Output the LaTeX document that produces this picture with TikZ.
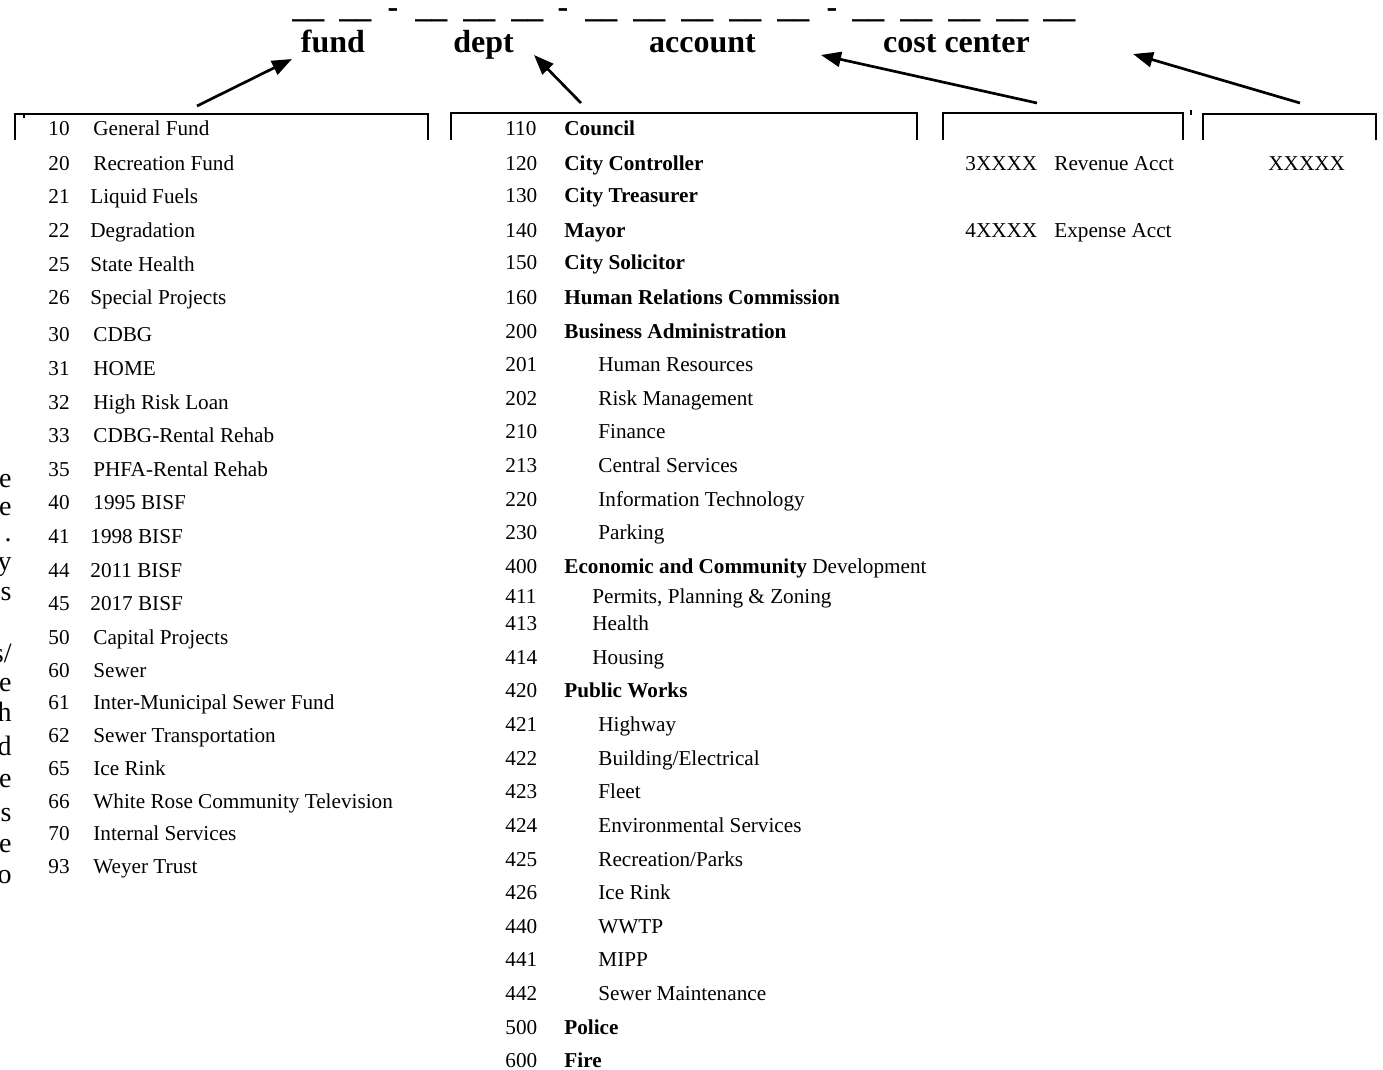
\documentclass[tikz,border=0pt]{standalone}
\usepackage{fontspec}
\setmainfont{Liberation Serif}
\usetikzlibrary{arrows.meta}
\begin{document}
\begin{tikzpicture}[x=0.5pt,y=-0.5pt,
  txt/.style={anchor=base west, inner sep=0pt, font=\fontsize{10.6}{12}\selectfont},
  hdr/.style={anchor=base, inner sep=0pt, font=\fontsize{16}{19}\selectfont\bfseries},
  blank/.style={anchor=base west, inner sep=0pt, font=\fontsize{16}{19}\selectfont\bfseries},
  dashmark/.style={anchor=base, inner sep=0pt, font=\fontsize{16}{19}\selectfont\bfseries},
  brk/.style={line width=1.2pt},
  arr/.style={line width=1.35pt, -{Triangle[length=10pt,width=7.5pt]}},
  edgetxt/.style={anchor=base east, inner sep=0pt, font=\fontsize{14}{16}\selectfont}]
\useasboundingbox (0,0) rectangle (1383,1070);

% blanks and hyphens
\foreach \x [count=\i] in {292,339,415,463,511,585,633,681,729,777,852,900,948,996,1043}
  \node[blank] (u\i) at (\x,18) {\_\_};
\foreach \x [count=\i] in {393,563,832}
  \node[dashmark] (h\i) at (\x,18) {-};

% headers
\node[hdr] (fund) at (333,53) {fund};
\node[hdr] (dept) at (483.5,53) {dept};
\node[hdr] (account) at (702.5,53) {account};
\node[hdr] (cost) at (956.5,53) {cost center};

% brackets
\draw[brk] (15,140) -- (15,114) -- (428,114) -- (428,140);
\draw[brk] (451,140) -- (451,113) -- (917,113) -- (917,140);
\draw[brk] (943,140) -- (943,113) -- (1183,113) -- (1183,140);
\draw[brk] (1203,140) -- (1203,114) -- (1376,114) -- (1376,140);
\draw[line width=0.6pt] (24,114) -- (24,118);
\draw[line width=0.6pt] (1191,110) -- (1191,115);

% arrows
\coordinate (fundtail) at (197,106);
\coordinate (fundtip) at (292,59);
\coordinate (depttail) at (581,103);
\coordinate (depttip) at (534,55);
\coordinate (acctail) at (1037,103);
\coordinate (acctip) at (821,55);
\coordinate (costtail) at (1300,103);
\coordinate (costtip) at (1133,54);
\draw[arr] (fundtail) -- (fundtip);
\draw[arr] (depttail) -- (depttip);
\draw[arr] (acctail) -- (acctip);
\draw[arr] (costtail) -- (costtip);

% fund list
\foreach \n/\yy/\t/\xx [count=\i] in {
10/129/{General Fund}/93, 20/163/{Recreation Fund}/93, 21/197/{Liquid Fuels}/90,
22/231/{Degradation}/90, 25/264/{State Health}/90, 26/298/{Special Projects}/90,
30/334/{CDBG}/93, 31/368/{HOME}/93, 32/402/{High Risk Loan}/93,
33/435/{CDBG-Rental Rehab}/93, 35/469/{PHFA-Rental Rehab}/93, 40/502/{1995 BISF}/93,
41/536/{1998 BISF}/90, 44/570/{2011 BISF}/90, 45/603/{2017 BISF}/90,
50/637/{Capital Projects}/93, 60/670/{Sewer}/93, 61/702/{Inter-Municipal Sewer Fund}/93,
62/735/{Sewer Transportation}/93, 65/768/{Ice Rink}/93, 66/801/{White Rose Community Television}/93,
70/833/{Internal Services}/93, 93/866/{Weyer Trust}/93}
{
  \node[txt] (fn\i) at (48,\yy+7) {\n};
  \node[txt] (ft\i) at (\xx,\yy+7) {\t};
}

% dept list
\foreach \n/\yy/\t/\xx [count=\i] in {
110/129/{\textbf{Council}}/564,
120/163/{\textbf{City Controller}}/564,
130/196/{\textbf{City Treasurer}}/564,
140/230/{\textbf{Mayor}}/564,
150/263/{\textbf{City Solicitor}}/564,
160/297/{\textbf{Human Relations Commission}}/564,
200/331/{\textbf{Business Administration}}/564,
201/364/{Human Resources}/598,
202/398/{Risk Management}/598,
210/431/{Finance}/598,
213/465/{Central Services}/598,
220/499/{Information Technology}/598,
230/532/{Parking}/598,
400/566/{\textbf{Economic and Community} Development}/564,
411/596/{Permits, Planning \& Zoning}/592,
413/623/{Health}/592,
414/657/{Housing}/592,
420/690/{\textbf{Public Works}}/564,
421/724/{Highway}/598,
422/758/{Building/Electrical}/598,
423/791/{Fleet}/598,
424/825/{Environmental Services}/598,
425/859/{Recreation/Parks}/598,
426/892/{Ice Rink}/598,
440/926/{WWTP}/598,
441/959/{MIPP}/598,
442/993/{Sewer Maintenance}/598,
500/1027/{\textbf{Police}}/564,
600/1060/{\textbf{Fire}}/564}
{
  \node[txt] (dn\i) at (505,\yy+7) {\n};
  \node[txt] (dt\i) at (\xx,\yy+7) {\t};
}

% account and cost center
\node[txt] (acc3) at (965,170) {3XXXX};
\node[txt] (rev) at (1054,170) {Revenue Acct};
\node[txt] (acc4) at (965,237) {4XXXX};
\node[txt] (exp) at (1054,237) {Expense Acct};
\node[txt] (cc) at (1268,170) {XXXXX};

% cut-off paragraph at left edge
\foreach \c/\yy [count=\i] in {e/487, e/515, ./541, y/570, s/600, s\slash/662, e/691, h/721, d/755, e/787, s/821, e/852, o/883}
  \node[edgetxt] (lm\i) at (12,\yy) {\c};
\end{tikzpicture}
\end{document}
